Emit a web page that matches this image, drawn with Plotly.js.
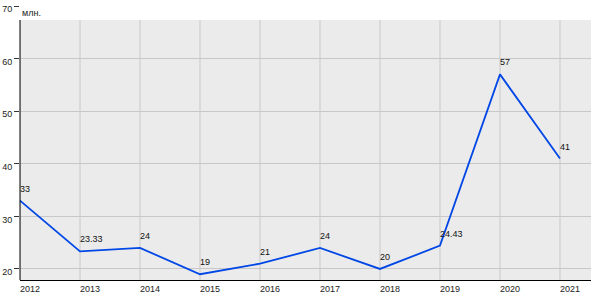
<!DOCTYPE html>
<html>
<head>
<meta charset="utf-8">
<script src="https://cdn.plot.ly/plotly-3.0.1.min.js"></script>
<style>html,body{margin:0;padding:0;background:#fff}#chart{width:600px;height:300px}</style>
</head>
<body>
<div id="chart"></div>
<script>
const years = [2012, 2013, 2014, 2015, 2016, 2017, 2018, 2019, 2020, 2021];
const values = [33, 23.33, 24, 19, 21, 24, 20, 24.43, 57, 41];
const valueLabels = ['33', '23.33', '24', '19', '21', '24', '20', '24.43', '57', '41'];
const yTicks = [20, 30, 40, 50, 60, 70];
const unitLabel = 'млн.';

const gridTop = 0.9489; // top of grey plotting band (paper fraction)

const shapes = [{
  type: 'rect', xref: 'paper', yref: 'paper', x0: 0, x1: 1, y0: 0, y1: gridTop,
  fillcolor: '#ebebeb', line: {width: 0}, layer: 'below'
}];
years.forEach(function (yr) {
  shapes.push({
    type: 'line', xref: 'x', yref: 'paper', x0: yr, x1: yr, y0: 0, y1: gridTop,
    line: {color: '#c8c8c8', width: 1}, layer: 'below'
  });
});
shapes.push({
  type: 'line', xref: 'paper', yref: 'paper', x0: 0, x1: 0, y0: 0, y1: gridTop,
  line: {color: '#000', width: 1}, layer: 'above'
});

const trace = {
  x: years, y: values,
  type: 'scatter', mode: 'lines',
  line: {color: '#0047e6', width: 1.8},
  cliponaxis: false, hoverinfo: 'skip'
};

const annotations = years.map(function (yr, i) {
  return {
    text: valueLabels[i], xref: 'x', yref: 'y', x: yr, y: values[i],
    xanchor: 'left', yanchor: 'bottom', xshift: -1, yshift: 6, borderpad: 0,
    showarrow: false, font: {size: 9, color: '#111'}
  };
});
annotations.push({
  text: unitLabel, xref: 'paper', yref: 'paper', x: 0, y: 0.9745,
  xanchor: 'left', yanchor: 'middle', showarrow: false,
  font: {size: 9, color: '#222'}
});

const layout = {
  width: 600, height: 300,
  margin: {l: 20, r: 9, t: 6, b: 20},
  paper_bgcolor: '#fff', plot_bgcolor: 'rgba(0,0,0,0)',
  showlegend: false,
  font: {family: 'Liberation Sans, Arial, sans-serif', size: 9, color: '#222'},
  xaxis: {
    range: [2012, 2021.517], tickvals: years, ticktext: years.map(String),
    showgrid: false, zeroline: false,
    showline: true, linecolor: '#000', linewidth: 1.2,
    ticks: '', ticklabelshift: 10, ticklabelstandoff: 0,
    tickfont: {size: 9, color: '#222'}
  },
  yaxis: {
    range: [17.9, 70], tickvals: yTicks,
    showgrid: true, gridcolor: '#c8c8c8', gridwidth: 1, zeroline: false,
    showline: false, ticks: 'outside', ticklen: 5, tickcolor: '#333', tickwidth: 1,
    ticklabelshift: 3,
    tickfont: {size: 9, color: '#222'}
  },
  shapes: shapes,
  annotations: annotations
};

Plotly.newPlot('chart', [trace], layout, {displayModeBar: false, staticPlot: true});
</script>
</body>
</html>
